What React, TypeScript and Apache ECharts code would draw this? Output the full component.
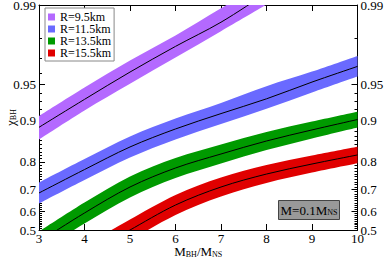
import React, { useEffect, useRef } from "react";
import * as echarts from "echarts";

// Axis transform (the chart's non-linear chi axis)
const T = (c: number) => 82.9 * c - 47.1 * Math.log(1 - c);

const yLabels = [0.5, 0.6, 0.7, 0.8, 0.9, 0.95, 0.99];
const yMinor: number[] = [];
for (let k = 51; k < 99; k++) if (!yLabels.some((l) => Math.abs(l * 100 - k) < 1e-6)) yMinor.push(k / 100);

const xsPurple = [3, 4, 5, 6, 7, 8];
const purpleMid = [0.888, 0.933, 0.9606, 0.9765, 0.9857, 0.9922];
const purpleHi = [0.9086, 0.9466, 0.9687, 0.9812, 0.9893, 0.9939];
const purpleLo = [0.8615, 0.9175, 0.9504, 0.9705, 0.9828, 0.9901];

const xsBlue = [3, 4, 5, 6, 7, 8, 9, 10];
const blueMid = [0.6846, 0.775, 0.843, 0.8847, 0.9126, 0.9337, 0.952, 0.9648];
const blueHi = [0.7277, 0.809, 0.8686, 0.9043, 0.9283, 0.948, 0.961, 0.9715];
const blueLo = [0.637, 0.737, 0.8136, 0.8617, 0.8945, 0.92, 0.9413, 0.957];

const xsGreen = [3, 4, 5, 6, 7, 8, 9, 10];
const greenMid = [0.432, 0.591, 0.7096, 0.7803, 0.8238, 0.858, 0.8827, 0.9026];
const greenHi = [0.4915, 0.6418, 0.7508, 0.8121, 0.8495, 0.8786, 0.8991, 0.9157];
const greenLo = [0.365, 0.536, 0.6649, 0.7447, 0.7951, 0.8348, 0.864, 0.8878];

const xsRed = [4.5, 5, 6, 7, 8, 9, 10];
const redMid = [0.425, 0.5, 0.63, 0.7096, 0.7593, 0.7934, 0.8211];
const redHi = [0.486, 0.5574, 0.676, 0.7466, 0.7902, 0.8197, 0.8437];
const redLo = [0.359, 0.439, 0.581, 0.6693, 0.7258, 0.7646, 0.7957];

const names = ["R=9.5km", "R=11.5km", "R=13.5km", "R=15.5km"];
const colors = ["#b469ff", "#6a6aff", "#009a00", "#e00000"];

const FONT = "Liberation Serif";
const rich = {
  a: { fontFamily: FONT, fontSize: 13, color: "#000" },
  s: { fontFamily: FONT, fontSize: 8, color: "#000", padding: [5, 0, 0, 0] },
};

type P = number[];
function curve(pts: P[], start: boolean): string {
  const n = pts.length;
  let d = (start ? "M" : "L") + pts[0][0] + "," + pts[0][1];
  for (let i = 0; i < n - 1; i++) {
    const p0 = pts[Math.max(i - 1, 0)];
    const p1 = pts[i];
    const p2 = pts[i + 1];
    const p3 = pts[Math.min(i + 2, n - 1)];
    const c1 = [p1[0] + (p2[0] - p0[0]) / 6, p1[1] + (p2[1] - p0[1]) / 6];
    const c2 = [p2[0] - (p3[0] - p1[0]) / 6, p2[1] - (p3[1] - p1[1]) / 6];
    d += ` C${c1[0]},${c1[1]} ${c2[0]},${c2[1]} ${p2[0]},${p2[1]}`;
  }
  return d;
}

function band(name: string, color: string, xs: number[], lo: number[], hi: number[], mid: number[]) {
  return {
    name,
    type: "custom",
    color,
    itemStyle: { color },
    clip: true,
    silent: true,
    data: xs.map((x, i) => [x, T(mid[i])]),
    encode: { x: 0, y: 1 },
    renderItem: (params: any, api: any) => {
      if (params.dataIndex !== 0) return null;
      const up = xs.map((x, i) => api.coord([x, T(hi[i])]));
      const dn = xs.map((x, i) => api.coord([x, T(lo[i])])).reverse();
      const md = xs.map((x, i) => api.coord([x, T(mid[i])]));
      const area = curve(up, true) + " " + curve(dn, false) + " Z";
      return {
        type: "group",
        children: [
          { type: "path", shape: { pathData: area }, style: { fill: color, stroke: null } },
          { type: "path", shape: { pathData: curve(md, true) }, style: { fill: null, stroke: "#000", lineWidth: 1 } },
        ],
      };
    },
  };
}

const fmt = (v: number) => {
  const l = yLabels.find((q) => Math.abs(T(q) - v) < 1e-3);
  return l === undefined ? "" : String(l);
};

export default function App() {
  const ref = useRef<HTMLDivElement>(null);
  useEffect(() => {
    document.body.style.margin = "0";
    const chart = echarts.init(ref.current!, null, { renderer: "svg" });
    const yMin = T(0.5);
    const yMax = T(0.99);
    const majorVals = yLabels.map(T);
    const minorVals = yMinor.map(T);
    const yBase = {
      type: "value",
      min: yMin,
      max: yMax,
      splitLine: { show: false },
    };
    const axisLine = { show: true, lineStyle: { color: "#000", width: 1 } };
    chart.setOption({
      animation: false,
      grid: { left: 39, right: 26.5, top: 5, bottom: 28, containLabel: false, outerBoundsMode: "none" },
      legend: {
        data: names,
        orient: "vertical",
        left: 45,
        top: 8,
        icon: "rect",
        itemWidth: 7,
        itemHeight: 7,
        itemGap: 0,
        padding: [3, 3, 2, 3],
        backgroundColor: "#fff",
        borderColor: "#888",
        borderWidth: 1,
        borderRadius: 0,
        selectedMode: false,
        textStyle: { fontFamily: FONT, fontSize: 12, lineHeight: 12, color: "#000" },
      },
      xAxis: [
        {
          type: "value",
          min: 3,
          max: 10,
          interval: 1,
          position: "bottom",
          axisLine,
          axisTick: { inside: true, length: 6, lineStyle: { color: "#000" } },
          axisLabel: { fontFamily: FONT, fontSize: 13, color: "#000", margin: 2 },
          splitLine: { show: false },
          name: "{a|M}{s|BH}{a|/M}{s|NS}",
          nameLocation: "middle",
          nameGap: 15,
          nameMoveOverlap: false,
          nameTextStyle: { rich },
        },
        {
          type: "value",
          min: 3,
          max: 10,
          interval: 1,
          position: "top",
          axisLine,
          axisTick: { inside: true, length: 6, lineStyle: { color: "#000" } },
          axisLabel: { show: false },
          splitLine: { show: false },
        },
      ],
      yAxis: [
        {
          ...yBase,
          position: "left",
          axisLine,
          axisTick: { inside: true, length: 6, customValues: majorVals, lineStyle: { color: "#000" } },
          axisLabel: { customValues: majorVals, formatter: fmt, fontFamily: FONT, fontSize: 13, color: "#000", margin: 3 },
          name: "{a|χ}{s|BH}",
          nameLocation: "middle",
          nameRotate: 90,
          nameGap: 22,
          nameMoveOverlap: false,
          nameTextStyle: { rich },
        },
        {
          ...yBase,
          position: "left",
          axisLine: { show: false },
          axisTick: { inside: true, length: 3, customValues: minorVals, lineStyle: { color: "#000" } },
          axisLabel: { show: false },
        },
        {
          ...yBase,
          position: "right",
          axisLine,
          axisTick: { inside: true, length: 6, customValues: majorVals, lineStyle: { color: "#000" } },
          axisLabel: { customValues: majorVals, formatter: fmt, fontFamily: FONT, fontSize: 13, color: "#000", margin: 3 },
        },
        {
          ...yBase,
          position: "right",
          axisLine: { show: false },
          axisTick: { inside: true, length: 3, customValues: minorVals, lineStyle: { color: "#000" } },
          axisLabel: { show: false },
        },
      ],
      series: [
        band(names[0], colors[0], xsPurple, purpleLo, purpleHi, purpleMid),
        band(names[1], colors[1], xsBlue, blueLo, blueHi, blueMid),
        band(names[2], colors[2], xsGreen, greenLo, greenHi, greenMid),
        band(names[3], colors[3], xsRed, redLo, redHi, redMid),
      ],
      graphic: [
        {
          type: "rect",
          shape: { x: 278.5, y: 200.5, width: 61, height: 19 },
          style: { fill: "#999999", stroke: "#444", lineWidth: 1 },
          z: 10,
        },
        {
          type: "text",
          x: 309,
          y: 210,
          style: { text: "{a|M=0.1M}{s|NS}", rich, align: "center", verticalAlign: "middle" },
          z: 11,
        },
      ],
    });
    return () => chart.dispose();
  }, []);
  return <div ref={ref} style={{ width: 384, height: 258 }} />;
}
